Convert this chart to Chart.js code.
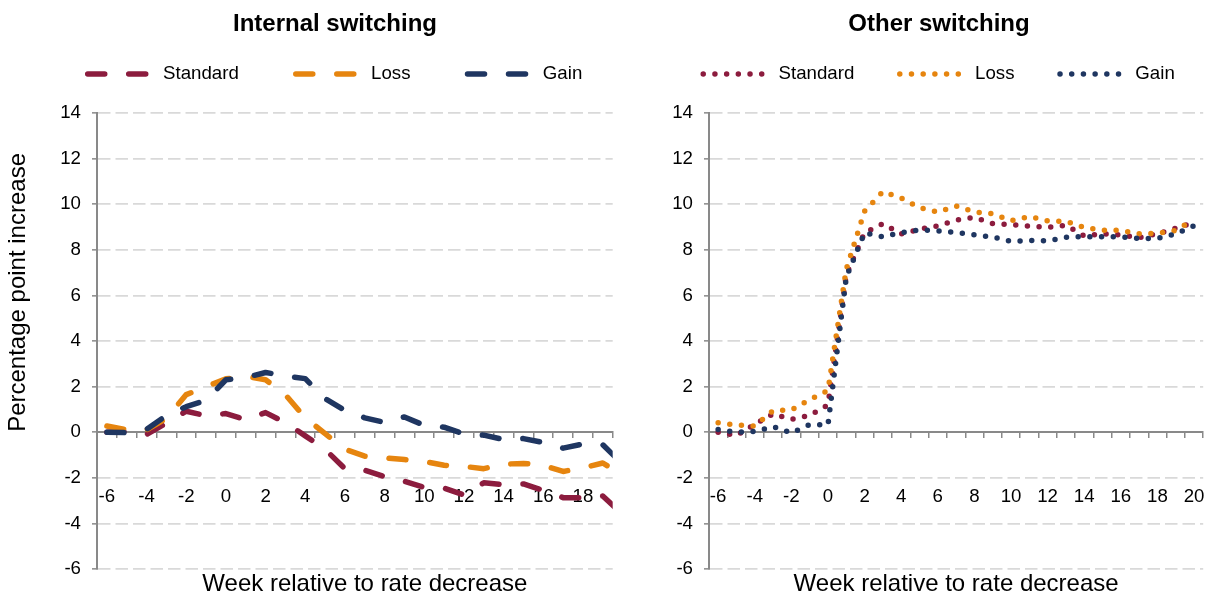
<!DOCTYPE html>
<html>
<head>
<meta charset="utf-8">
<title>Internal and other switching</title>
<script src="https://cdn.jsdelivr.net/npm/chart.js@4.4.1/dist/chart.umd.min.js"></script>
<style>
  html, body { margin: 0; padding: 0; background: #ffffff; overflow: hidden; }
  body { width: 1212px; height: 599px; position: relative; }
  canvas { position: absolute; top: 0; }
  #internalChart { left: 0; }
  #otherChart { left: 656px; }
</style>
</head>
<body>
<canvas id="internalChart" width="670" height="599"></canvas>
<canvas id="otherChart" width="566" height="599"></canvas>
<script>
// Weeks relative to the rate decrease (x axis) and the weeks that get a label
const weeks = [-6, -5, -4, -3, -2, -1, 0, 1, 2, 3, 4, 5, 6, 7, 8, 9, 10, 11, 12, 13, 14, 15, 16, 17, 18, 19, 20];
const labelledWeeks = [-6, -4, -2, 0, 2, 4, 6, 8, 10, 12, 14, 16, 18, 20];

const seriesNames = ['Standard', 'Loss', 'Gain'];
const seriesColours = ['#8c1c3e', '#e6850f', '#1f3661'];

// Internal switching, percentage point increase
const internalStandard = [0.0, 0.03, -0.1, 0.4, 0.92, 0.72, 0.82, 0.55, 0.86, 0.42, -0.16, -0.75, -1.6, -1.67, -1.95, -2.15, -2.42, -2.45, -2.75, -2.22, -2.3, -2.27, -2.55, -2.87, -2.87, -2.8, -3.6];
const internalLoss = [0.27, 0.1, 0.1, 0.6, 1.65, 2.0, 2.34, 2.45, 2.3, 1.64, 0.63, -0.06, -0.75, -1.05, -1.12, -1.2, -1.28, -1.45, -1.5, -1.6, -1.4, -1.37, -1.45, -1.72, -1.57, -1.35, -1.9];
const internalGain = [0.0, -0.02, 0.13, 0.73, 1.12, 1.4, 2.3, 2.4, 2.62, 2.47, 2.35, 1.47, 0.95, 0.63, 0.43, 0.67, 0.3, 0.22, -0.08, -0.13, -0.32, -0.28, -0.45, -0.7, -0.52, -0.55, -1.4];

// Other switching, percentage point increase
const otherStandard = [0.0, -0.15, 0.35, 0.8, 0.57, 0.73, 1.2, 6.9, 8.75, 9.15, 8.7, 8.9, 9.05, 9.3, 9.42, 9.15, 9.11, 9.04, 8.98, 9.08, 8.61, 8.7, 8.65, 8.54, 8.7, 8.95, 9.2];
const otherLoss = [0.41, 0.32, 0.27, 0.94, 0.98, 1.43, 1.83, 7.15, 9.7, 10.55, 10.27, 9.85, 9.65, 9.92, 9.66, 9.58, 9.28, 9.46, 9.27, 9.25, 8.98, 8.86, 8.85, 8.7, 8.72, 8.85, 9.33];
const otherGain = [0.12, 0.0, 0.03, 0.25, -0.03, 0.33, 0.32, 6.8, 8.75, 8.57, 8.75, 8.87, 8.83, 8.76, 8.66, 8.56, 8.37, 8.41, 8.39, 8.55, 8.58, 8.57, 8.57, 8.5, 8.5, 8.7, 9.05];

Chart.defaults.font.family = '"Liberation Sans", Arial, Helvetica, sans-serif';
Chart.defaults.color = '#000000';

const axisGrey = '#898989';
const gridGrey = '#d9d9d9';
const tickFont = { size: 18.67 };
const nbsp = n => '\u00a0'.repeat(n);

function toPoints(values) {
  return weeks.map((w, i) => ({ x: w, y: values[i] }));
}

function makeDatasets(seriesValues, dash, width, clip) {
  return seriesValues.map((values, i) => ({
    label: seriesNames[i],
    data: toPoints(values),
    xAxisID: 'x',
    yAxisID: 'y',
    borderColor: seriesColours[i],
    backgroundColor: seriesColours[i],
    borderWidth: width,
    borderDash: dash,
    borderCapStyle: 'round',
    borderJoinStyle: 'round',
    pointRadius: 0,
    pointHoverRadius: 0,
    tension: 0,
    order: seriesNames.length - i, // Gain drawn on top, as in the original
    clip: clip
  }));
}

// legend swatch = a short piece of the dataset's own dashed / dotted line
function legendLabels(chart) {
  const items = Chart.defaults.plugins.legend.labels.generateLabels(chart);
  return items.map(item => {
    const ds = chart.data.datasets[item.datasetIndex];
    return Object.assign(item, {
      pointStyle: 'line',
      lineDash: ds.borderDash,
      lineCap: ds.borderCapStyle,
      lineWidth: ds.borderWidth,
      strokeStyle: ds.borderColor,
      fillStyle: ds.borderColor
    });
  });
}

// empty helper axis, only used to take up room
function spacer(position, size) {
  const horizontal = position === 'top' || position === 'bottom';
  return {
    type: 'linear', position: position, min: 0, max: 1,
    ticks: { display: false }, grid: { display: false }, border: { display: false },
    afterFit: s => { if (horizontal) s.height = size; else s.width = size; }
  };
}

function makeChart(id, o) {
  return new Chart(document.getElementById(id), {
    type: 'line',
    data: { datasets: o.datasets },
    options: {
      responsive: false,
      animation: false,
      devicePixelRatio: 1,
      layout: { padding: 0 },
      plugins: {
        tooltip: { enabled: false },
        title: {
          display: true,
          text: o.title,
          color: '#000000',
          font: { size: 24, weight: 'bold' },
          padding: { top: 10, bottom: o.titleBottom }
        },
        legend: {
          display: true,
          position: 'top',
          labels: {
            usePointStyle: true,
            pointStyle: 'line',
            pointStyleWidth: 66,
            padding: o.legendGap,
            color: '#000000',
            font: { size: 18.67 },
            generateLabels: legendLabels,
            sort: (a, b) => a.datasetIndex - b.datasetIndex
          }
        }
      },
      scales: {
        x: {
          type: 'linear',
          position: { y: 0 },
          min: -6.5,
          max: o.xMax,
          afterBuildTicks: s => {
            s.ticks = weeks.filter(w => w <= o.xMax).map(w => ({ value: w }));
          },
          afterFit: s => { s.paddingLeft = 0; s.paddingRight = 0; },
          ticks: {
            autoSkip: false,
            maxRotation: 0,
            padding: 48,
            font: tickFont,
            color: '#000000',
            callback: v => labelledWeeks.includes(v) ? String(v) : ''
          },
          grid: { offset: true, drawOnChartArea: false, drawTicks: true, tickLength: 5, color: axisGrey, lineWidth: 1.5 },
          border: { display: true, color: axisGrey, width: 2 }
        },
        xTitle: Object.assign(spacer('bottom', 30), {
          title: {
            display: true,
            text: o.xTitle,
            color: '#000000',
            font: { size: 24 },
            padding: 0
          }
        }),
        gap: spacer('top', 19.67),
        y: {
          type: 'linear',
          position: 'left',
          min: -6,
          max: 14,
          ticks: { stepSize: 2, padding: 11, font: tickFont, color: '#000000' },
          grid: {
            color: c => (c.tick && c.tick.value === 0) ? 'rgba(0,0,0,0)' : gridGrey,
            lineWidth: 1.7,
            drawTicks: true,
            tickLength: 5,
            tickColor: axisGrey,
            tickWidth: 1.5
          },
          border: { display: true, color: axisGrey, width: 2, dash: [12.5, 5] },
          title: {
            display: !!o.yTitle,
            text: o.yTitle || '',
            align: 'end',
            color: '#000000',
            font: { size: 24 },
            padding: { top: 4, bottom: 0 }
          },
          afterFit: s => { s.width = o.yWidth; }
        },
        padRight: spacer('right', o.rightPad)
      }
    }
  });
}

makeChart('internalChart', {
  title: 'Internal switching',
  datasets: makeDatasets([internalStandard, internalLoss, internalGain], [17, 24], 5.5, 0),
  xMax: 19.5,
  xTitle: nbsp(3) + 'Week relative to rate decrease',
  yTitle: 'Percentage point increase' + nbsp(6),
  yWidth: 97,
  rightPad: 57.3,
  titleBottom: -31.13,
  legendGap: 57
});

makeChart('otherChart', {
  title: 'Other switching',
  datasets: makeDatasets([otherStandard, otherLoss, otherGain], [0, 11.7], 5.5, undefined),
  xMax: 20.5,
  xTitle: 'Week relative to rate decrease',
  yTitle: '',
  yWidth: 53,
  rightPad: 18.8,
  titleBottom: -19.63,
  legendGap: 45.5
});
</script>
</body>
</html>
